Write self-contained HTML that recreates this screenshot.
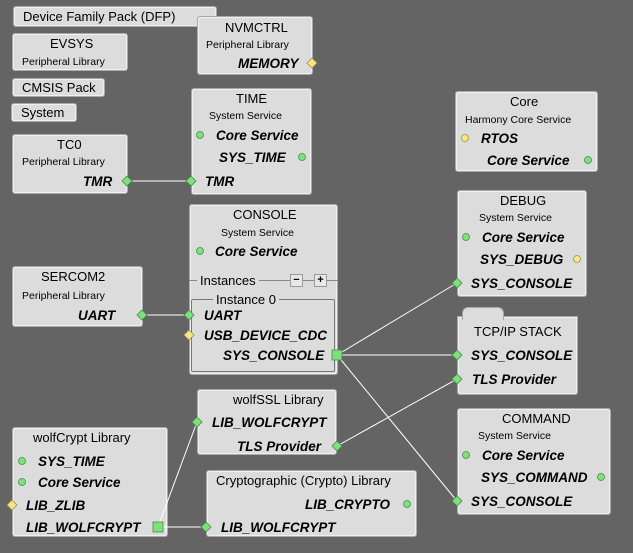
<!DOCTYPE html>
<html><head><style>
body{margin:0;width:633px;height:553px;background:#646464;position:relative;overflow:hidden;font-family:"Liberation Sans",sans-serif;}
.b{position:absolute;background:#dcdcdc;border:1px solid #a8a8a8;border-radius:3px;box-shadow:inset 0 0 0 1px #f0f0f0;box-sizing:border-box;}
.t{position:absolute;font-size:13px;color:#000;white-space:nowrap;}
.s{position:absolute;font-size:10.5px;color:#000;white-space:nowrap;}
.p{position:absolute;font-size:13.5px;font-weight:bold;font-style:italic;color:#000;white-space:nowrap;}
svg{position:absolute;left:0;top:0;}
</style></head><body>
<div class="b" style="left:13px;top:6px;width:204px;height:21px"></div>
<div class="b" style="left:12px;top:33px;width:116px;height:38px"></div>
<div class="b" style="left:12px;top:78px;width:93px;height:19px"></div>
<div class="b" style="left:11px;top:103px;width:66px;height:19px"></div>
<div class="b" style="left:197px;top:16px;width:116px;height:59px"></div>
<div class="b" style="left:191px;top:88px;width:121px;height:107px"></div>
<div class="b" style="left:12px;top:134px;width:116px;height:60px"></div>
<div class="b" style="left:189px;top:204px;width:149px;height:171px"></div>
<div class="b" style="left:12px;top:266px;width:131px;height:61px"></div>
<div class="b" style="left:455px;top:91px;width:143px;height:81px"></div>
<div class="b" style="left:457px;top:190px;width:130px;height:107px"></div>
<div class="b" style="left:457px;top:316px;width:121px;height:79px;border-radius:0 0 3px 3px"></div>
<div style="position:absolute;left:462px;top:307px;width:40px;height:12px;background:#dcdcdc;border:1px solid #a8a8a8;border-bottom:none;border-radius:6px 6px 0 0"></div>
<div class="b" style="left:457px;top:408px;width:154px;height:107px"></div>
<div class="b" style="left:197px;top:389px;width:140px;height:66px"></div>
<div class="b" style="left:12px;top:427px;width:156px;height:110px"></div>
<div class="b" style="left:206px;top:470px;width:211px;height:67px"></div>

<div class="t" style="left:23px;top:9px">Device Family Pack (DFP)</div>
<div class="t" style="left:50px;top:36px">EVSYS</div>
<div class="s" style="left:22px;top:56px">Peripheral Library</div>
<div class="t" style="left:22px;top:80px">CMSIS Pack</div>
<div class="t" style="left:21px;top:105px">System</div>
<div class="t" style="left:225px;top:20px">NVMCTRL</div>
<div class="s" style="left:206px;top:39px">Peripheral Library</div>
<div class="p" style="left:238px;top:56px">MEMORY</div>
<div class="t" style="left:236px;top:91px">TIME</div>
<div class="s" style="left:209px;top:110px">System Service</div>
<div class="p" style="left:216px;top:128px">Core Service</div>
<div class="p" style="left:219px;top:150px">SYS_TIME</div>
<div class="p" style="left:205px;top:174px">TMR</div>
<div class="t" style="left:57px;top:137px">TC0</div>
<div class="s" style="left:22px;top:156px">Peripheral Library</div>
<div class="p" style="left:83px;top:174px">TMR</div>
<div class="t" style="left:233px;top:207px">CONSOLE</div>
<div class="s" style="left:221px;top:227px">System Service</div>
<div class="p" style="left:215px;top:244px">Core Service</div>
<div style="position:absolute;left:189px;top:280px;width:149px;height:1px;background:#888"></div>
<div class="t" style="left:197px;top:273px;background:#dcdcdc;padding:0 3px">Instances</div>
<div style="position:absolute;left:290px;top:274px;width:11px;height:11px;background:#e8e8e8;border:1px solid #999;font-size:11px;line-height:11px;text-align:center;font-weight:bold">−</div>
<div style="position:absolute;left:314px;top:274px;width:11px;height:11px;background:#e8e8e8;border:1px solid #999;font-size:11px;line-height:11px;text-align:center;font-weight:bold">+</div>
<div style="position:absolute;left:191px;top:299px;width:144px;height:73px;border:1px solid #777;border-radius:2px;box-sizing:border-box"></div>
<div class="t" style="left:213px;top:292px;background:#dcdcdc;padding:0 3px">Instance 0</div>
<div class="p" style="left:204px;top:308px">UART</div>
<div class="p" style="left:204px;top:328px">USB_DEVICE_CDC</div>
<div class="p" style="left:223px;top:348px">SYS_CONSOLE</div>
<div class="t" style="left:41px;top:269px">SERCOM2</div>
<div class="s" style="left:22px;top:290px">Peripheral Library</div>
<div class="p" style="left:78px;top:308px">UART</div>
<div class="t" style="left:510px;top:94px">Core</div>
<div class="s" style="left:465px;top:114px">Harmony Core Service</div>
<div class="p" style="left:481px;top:131px">RTOS</div>
<div class="p" style="left:487px;top:153px">Core Service</div>
<div class="t" style="left:500px;top:193px">DEBUG</div>
<div class="s" style="left:479px;top:212px">System Service</div>
<div class="p" style="left:482px;top:230px">Core Service</div>
<div class="p" style="left:480px;top:252px">SYS_DEBUG</div>
<div class="p" style="left:471px;top:276px">SYS_CONSOLE</div>
<div class="t" style="left:474px;top:324px">TCP/IP STACK</div>
<div class="p" style="left:471px;top:348px">SYS_CONSOLE</div>
<div class="p" style="left:472px;top:372px">TLS Provider</div>
<div class="t" style="left:502px;top:411px">COMMAND</div>
<div class="s" style="left:478px;top:430px">System Service</div>
<div class="p" style="left:482px;top:448px">Core Service</div>
<div class="p" style="left:481px;top:470px">SYS_COMMAND</div>
<div class="p" style="left:471px;top:494px">SYS_CONSOLE</div>
<div class="t" style="left:233px;top:392px">wolfSSL Library</div>
<div class="p" style="left:212px;top:415px">LIB_WOLFCRYPT</div>
<div class="p" style="left:237px;top:439px">TLS Provider</div>
<div class="t" style="left:33px;top:430px">wolfCrypt Library</div>
<div class="p" style="left:38px;top:454px">SYS_TIME</div>
<div class="p" style="left:38px;top:475px">Core Service</div>
<div class="p" style="left:26px;top:498px">LIB_ZLIB</div>
<div class="p" style="left:26px;top:520px">LIB_WOLFCRYPT</div>
<div class="t" style="left:216px;top:473px">Cryptographic (Crypto) Library</div>
<div class="p" style="left:305px;top:497px">LIB_CRYPTO</div>
<div class="p" style="left:221px;top:520px">LIB_WOLFCRYPT</div>

<svg width="633" height="553">
<g stroke="#fff" stroke-width="1" fill="none">
<line x1="127" y1="181" x2="191" y2="181"/>
<line x1="142" y1="315" x2="189" y2="315"/>
<line x1="337" y1="355" x2="457" y2="283"/>
<line x1="337" y1="355" x2="457" y2="355"/>
<line x1="337" y1="355" x2="457" y2="501"/>
<line x1="337" y1="446" x2="457" y2="379"/>
<line x1="158" y1="527" x2="197" y2="422"/>
<line x1="158" y1="527" x2="206" y2="527"/>
</g>
<g stroke="#4a8a4a" stroke-width="0.8">
<g fill="#7ce07c">
<circle cx="200" cy="135" r="3.5"/><circle cx="302" cy="157" r="3.5"/>
<circle cx="200" cy="251" r="3.5"/><circle cx="588" cy="160" r="3.5"/>
<circle cx="466" cy="237" r="3.5"/><circle cx="466" cy="455" r="3.5"/>
<circle cx="601" cy="477" r="3.5"/><circle cx="22" cy="461" r="3.5"/>
<circle cx="22" cy="482" r="3.5"/><circle cx="407" cy="504" r="3.5"/>
<path d="M127 176l5 5-5 5-5-5z"/><path d="M191 176l5 5-5 5-5-5z"/>
<path d="M142 310l5 5-5 5-5-5z"/><path d="M189 310l5 5-5 5-5-5z"/>
<path d="M457 278l5 5-5 5-5-5z"/><path d="M457 350l5 5-5 5-5-5z"/>
<path d="M457 374l5 5-5 5-5-5z"/><path d="M457 496l5 5-5 5-5-5z"/>
<path d="M197 417l5 5-5 5-5-5z"/><path d="M337 441l5 5-5 5-5-5z"/>
<path d="M206 522l5 5-5 5-5-5z"/>
<rect x="332" y="350" width="10" height="10"/><rect x="153" y="522" width="10" height="10"/>
</g>
<g fill="#f5e68a" stroke="#a09040">
<circle cx="465" cy="138" r="3.5"/><circle cx="577" cy="259" r="3.5"/>
<path d="M312 58l5 5-5 5-5-5z"/><path d="M189 330l5 5-5 5-5-5z"/>
<path d="M12 500l5 5-5 5-5-5z"/>
</g>
</g>
</svg>
</body></html>
